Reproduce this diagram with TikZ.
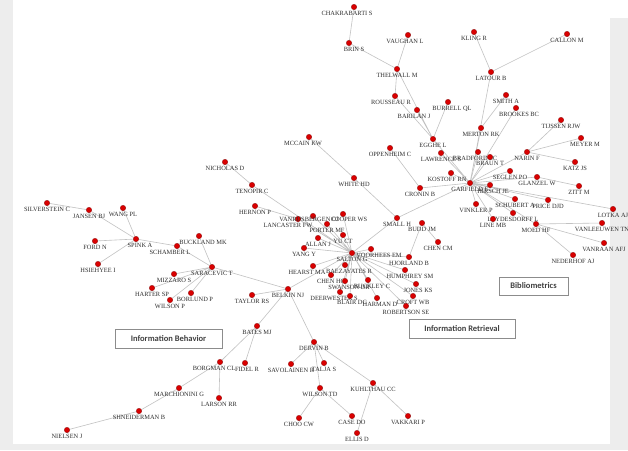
\documentclass[tikz,border=0pt]{standalone}
\usepackage{fontspec}
\setmainfont{Liberation Serif}
\newfontfamily\boxfont{Carlito}
\usetikzlibrary{backgrounds}

\begin{document}
\begin{tikzpicture}[x=1pt, y=-1pt,
        dot/.style={circle, fill=red!85!black, draw=red!45!black, line width=0.2pt, inner sep=0pt, minimum size=5.5pt},
        label position=below, label distance=0.5pt,
        every label/.style={font=\fontsize{6.4}{7}\selectfont, text=black!82, inner sep=0.3pt},
        link/.style={draw=black!24, line width=0.6pt},
        topic/.style={draw=black!45, fill=white, line width=0.8pt, font=\boxfont\bfseries\fontsize{8.5}{10}\selectfont, text=black!75, minimum height=19pt, inner sep=0pt}]
    \useasboundingbox (0,0) rectangle (628,450);
    % bibliometrics side
    \node[dot, label={[xshift=-7pt]CHAKRABARTI S}] (chakrabarti) at (354,7) {};
    \node[dot, label={[xshift=5pt]BRIN S}] (brin) at (349,43) {};
    \node[dot, label={[xshift=-3pt]VAUGHAN L}] (vaughan) at (408,35) {};
    \node[dot, label={THELWALL M}] (thelwall) at (397,69) {};
    \node[dot, label={[xshift=-4pt]ROUSSEAU R}] (rousseau) at (395,96) {};
    \node[dot, label={[xshift=-3pt]BARILAN J}] (barilan) at (417,110) {};
    \node[dot, label={[xshift=4pt]BURRELL QL}] (burrell) at (448,102) {};
    \node[dot, label={EGGHE L}] (egghe) at (433,139) {};
    \node[dot, label={KLING R}] (kling) at (474,32) {};
    \node[dot, label={CALLON M}] (callon) at (567,34) {};
    \node[dot, label={LATOUR B}] (latour) at (491,72) {};
    \node[dot, label={SMITH A}] (smith) at (506,95) {};
    \node[dot, label={[xshift=3pt]BROOKES BC}] (brookes) at (516,108) {};
    \node[dot, label={MERTON RK}] (merton) at (481,128) {};
    \node[dot, label={TIJSSEN RJW}] (tijssen) at (561,120) {};
    \node[dot, label={[xshift=4pt]MEYER M}] (meyer) at (581,138) {};
    \node[dot, label={NARIN F}] (narin) at (527,152) {};
    \node[dot, label={KATZ JS}] (katz) at (575,162) {};
    \node[dot, label={SEGLEN PO}] (seglen) at (510,171) {};
    \node[dot, label={GLANZEL W}] (glanzel) at (537,177) {};
    \node[dot, label={ZITT M}] (zitt) at (579,186) {};
    \node[dot, label={[xshift=-3pt]BRADFORD SC}] (bradford) at (478,152) {};
    \node[dot, label={BRAUN T}] (braun) at (490,157) {};
    \node[dot, label={LAWRENCE S}] (lawrence) at (441,153) {};
    \node[dot, label={[xshift=-4pt]KOSTOFF RN}] (kostoff) at (451,173) {};
    \node[dot, label={GARFIELD E}] (garfield) at (470,183) {};
    \node[dot, label={[xshift=3pt]HIRSCH JE}] (hirsch) at (490,185) {};
    \node[dot, label={OPPENHEIM C}] (oppenheim) at (390,148) {};
    \node[dot, label={CRONIN B}] (cronin) at (420,188) {};
    \node[dot, label={VINKLER P}] (vinkler) at (476,204) {};
    \node[dot, label={SCHUBERT A}] (schubert) at (515,199) {};
    \node[dot, label={PRICE DJD}] (price) at (548,200) {};
    \node[dot, label={LOTKA AJ}] (lotka) at (613,209) {};
    \node[dot, label={LEYDESDORFF L}] (leydesdorff) at (513,213) {};
    \node[dot, label={LINE MB}] (line) at (493,219) {};
    \node[dot, label={MOED HF}] (moed) at (536,224) {};
    \node[dot, label={VANLEEUWEN TN}] (vanleeuwen) at (602,223) {};
    \node[dot, label={VANRAAN AFJ}] (vanraan) at (604,243) {};
    \node[dot, label={NEDERHOF AJ}] (nederhof) at (573,255) {};
    % retrieval side
    \node[dot, label={[xshift=-6pt]MCCAIN KW}] (mccain) at (309,137) {};
    \node[dot, label={WHITE HD}] (white) at (354,178) {};
    \node[dot, label={SMALL H}] (small) at (397,218) {};
    \node[dot, label={BUDD JM}] (budd) at (422,223) {};
    \node[dot, label={CHEN CM}] (chencm) at (438,242) {};
    \node[dot, label={NICHOLAS D}] (nicholas) at (225,162) {};
    \node[dot, label={TENOPIR C}] (tenopir) at (252,185) {};
    \node[dot, label={HERNON P}] (hernon) at (255,206) {};
    \node[dot, label={[xshift=-10pt]LANCASTER FW}] (lancaster) at (298,219) {};
    \node[dot, label={[xshift=-4pt, yshift=3pt]VANRIJSBERGEN CJ}] (vanrijsbergen) at (313,216) {};
    \node[dot, label={[xshift=6pt, yshift=1pt]COOPER WS}] (cooper) at (343,214) {};
    \node[dot, label={PORTER MF}] (porter) at (327,224) {};
    \node[dot, label={YU CT}] (yu) at (343,235) {};
    \node[dot, label={ALLAN J}] (allan) at (318,238) {};
    \node[dot, label={YANG Y}] (yang) at (304,248) {};
    \node[dot, label={SALTON G}] (salton) at (352,253) {};
    \node[dot, label={[xshift=8pt]VOORHEES EM}] (voorhees) at (371,249) {};
    \node[dot, label={[xshift=-6pt]HEARST MA}] (hearst) at (313,266) {};
    \node[dot, label={[xshift=4pt]BAEZAYATES R}] (baezayates) at (345,265) {};
    \node[dot, label={CHEN HC}] (chenhc) at (331,275) {};
    \node[dot, label={[xshift=4pt]SWANSON DR}] (swanson) at (345,281) {};
    \node[dot, label={[xshift=-6pt]DEERWESTER S}] (deerwester) at (340,292) {};
    \node[dot, label={[xshift=2pt]BLAIR DC}] (blair) at (350,296) {};
    \node[dot, label={[xshift=3pt]HARMAN D}] (harman) at (377,298) {};
    \node[dot, label={HJORLAND B}] (hjorland) at (409,257) {};
    \node[dot, label={[xshift=5pt]HUMPHREY SM}] (humphrey) at (405,270) {};
    \node[dot, label={[xshift=4pt]BUCKLEY C}] (buckley) at (368,280) {};
    \node[dot, label={[xshift=2pt]JONES KS}] (jones) at (416,284) {};
    \node[dot, label={CROFT WB}] (croft) at (413,296) {};
    \node[dot, label={ROBERTSON SE}] (robertson) at (406,306) {};
    % behavior side
    \node[dot, label={BELKIN NJ}] (belkin) at (288,289) {};
    \node[dot, label={TAYLOR RS}] (taylor) at (252,295) {};
    \node[dot, label={SARACEVIC T}] (saracevic) at (212,267) {};
    \node[dot, label={[xshift=-7pt]SCHAMBER L}] (schamber) at (177,246) {};
    \node[dot, label={[xshift=4pt]BUCKLAND MK}] (buckland) at (199,236) {};
    \node[dot, label={[xshift=4pt]SPINK A}] (spink) at (136,239) {};
    \node[dot, label={JANSEN BJ}] (jansen) at (89,210) {};
    \node[dot, label={WANG PL}] (wang) at (123,208) {};
    \node[dot, label={SILVERSTEIN C}] (silverstein) at (47,203) {};
    \node[dot, label={FORD N}] (ford) at (95,241) {};
    \node[dot, label={HSIEHYEE I}] (hsiehyee) at (98,264) {};
    \node[dot, label={MIZZARO S}] (mizzaro) at (174,274) {};
    \node[dot, label={HARTER SP}] (harter) at (152,288) {};
    \node[dot, label={[xshift=4pt]BORLUND P}] (borlund) at (191,293) {};
    \node[dot, label={WILSON P}] (wilsonp) at (170,300) {};
    \node[dot, label={BATES MJ}] (bates) at (257,326) {};
    \node[dot, label={DERVIN B}] (dervin) at (314,342) {};
    \node[dot, label={[xshift=-6pt]BORGMAN CL}] (borgman) at (220,362) {};
    \node[dot, label={[xshift=2pt]FIDEL R}] (fidel) at (245,363) {};
    \node[dot, label={SAVOLAINEN R}] (savolainen) at (291,364) {};
    \node[dot, label={TALJA S}] (talja) at (324,363) {};
    \node[dot, label={KUHLTHAU CC}] (kuhlthau) at (373,383) {};
    \node[dot, label={WILSON TD}] (wilsontd) at (320,388) {};
    \node[dot, label={MARCHIONINI G}] (marchionini) at (179,388) {};
    \node[dot, label={LARSON RR}] (larson) at (219,398) {};
    \node[dot, label={SHNEIDERMAN B}] (shneiderman) at (139,411) {};
    \node[dot, label={NIELSEN J}] (nielsen) at (67,430) {};
    \node[dot, label={CHOO CW}] (choo) at (299,418) {};
    \node[dot, label={CASE DO}] (case) at (352,416) {};
    \node[dot, label={ELLIS D}] (ellis) at (357,433) {};
    \node[dot, label={VAKKARI P}] (vakkari) at (408,416) {};
    % cluster names
    \node[topic, minimum width=107pt] (behavior) at (168.5,338.5) {Information Behavior};
    \node[topic, minimum width=106pt] (retrieval) at (462,328.5) {Information Retrieval};
    \node[topic, minimum width=69pt, minimum height=18pt] (biblio) at (533.5,286) {Bibliometrics};
    \begin{scope}[on background layer]
        \fill[black!7] (0,0) rectangle (628,450);
        \fill[white] (13,0) rectangle (610,444);
        \fill[white] (610,0) rectangle (628,18);
        \draw[link] (chakrabarti) -- (brin) -- (thelwall) -- (vaughan)
            (thelwall) -- (rousseau) -- (egghe) -- (thelwall)
            (barilan) -- (egghe) -- (burrell)
            (egghe) -- (garfield) -- (lawrence)
            (kling) -- (latour) -- (callon) (latour) -- (garfield)
            (smith) -- (merton) -- (garfield) -- (brookes)
            (tijssen) -- (narin) -- (meyer) (narin) -- (katz) (narin) -- (garfield)
            (zitt) -- (glanzel) -- (garfield) -- (seglen);
        \draw[link] (garfield) -- (bradford) (garfield) -- (braun) (garfield) -- (kostoff)
            (garfield) -- (hirsch) (garfield) -- (vinkler) (garfield) -- (schubert)
            (garfield) -- (price) (garfield) -- (lotka) (garfield) -- (leydesdorff)
            (garfield) -- (line) (garfield) -- (moed) (garfield) -- (cronin) -- (oppenheim)
            (garfield) -- (small)
            (vanleeuwen) -- (moed) -- (vanraan) (moed) -- (nederhof);
        \draw[link] (mccain) -- (white) -- (small) -- (salton)
            (chencm) -- (budd) -- (hjorland) -- (salton)
            (nicholas) -- (tenopir) -- (salton) (hernon) -- (lancaster) -- (salton)
            (vanrijsbergen) -- (salton) (cooper) -- (salton) (porter) -- (salton)
            (yu) -- (salton) (allan) -- (salton) (yang) -- (salton)
            (voorhees) -- (salton) (hearst) -- (salton) (baezayates) -- (salton)
            (chenhc) -- (salton) (swanson) -- (salton) (deerwester) -- (salton)
            (blair) -- (salton) (harman) -- (salton) (humphrey) -- (salton)
            (buckley) -- (salton) (jones) -- (salton) (croft) -- (salton)
            (robertson) -- (salton) (belkin) -- (salton);
        \draw[link] (taylor) -- (belkin) -- (saracevic) -- (schamber) -- (spink)
            (buckland) -- (saracevic) -- (mizzaro) (saracevic) -- (harter)
            (saracevic) -- (borlund) (saracevic) -- (wilsonp)
            (silverstein) -- (jansen) -- (spink) -- (wang) (ford) -- (spink) -- (hsiehyee)
            (belkin) -- (bates) -- (borgman) -- (marchionini) -- (shneiderman) -- (nielsen)
            (bates) -- (fidel) (borgman) -- (larson)
            (belkin) -- (dervin) -- (savolainen) (dervin) -- (talja)
            (dervin) -- (wilsontd) -- (choo) (wilsontd) -- (case)
            (dervin) -- (kuhlthau) -- (ellis) (kuhlthau) -- (vakkari);
    \end{scope}
\end{tikzpicture}
\end{document}
